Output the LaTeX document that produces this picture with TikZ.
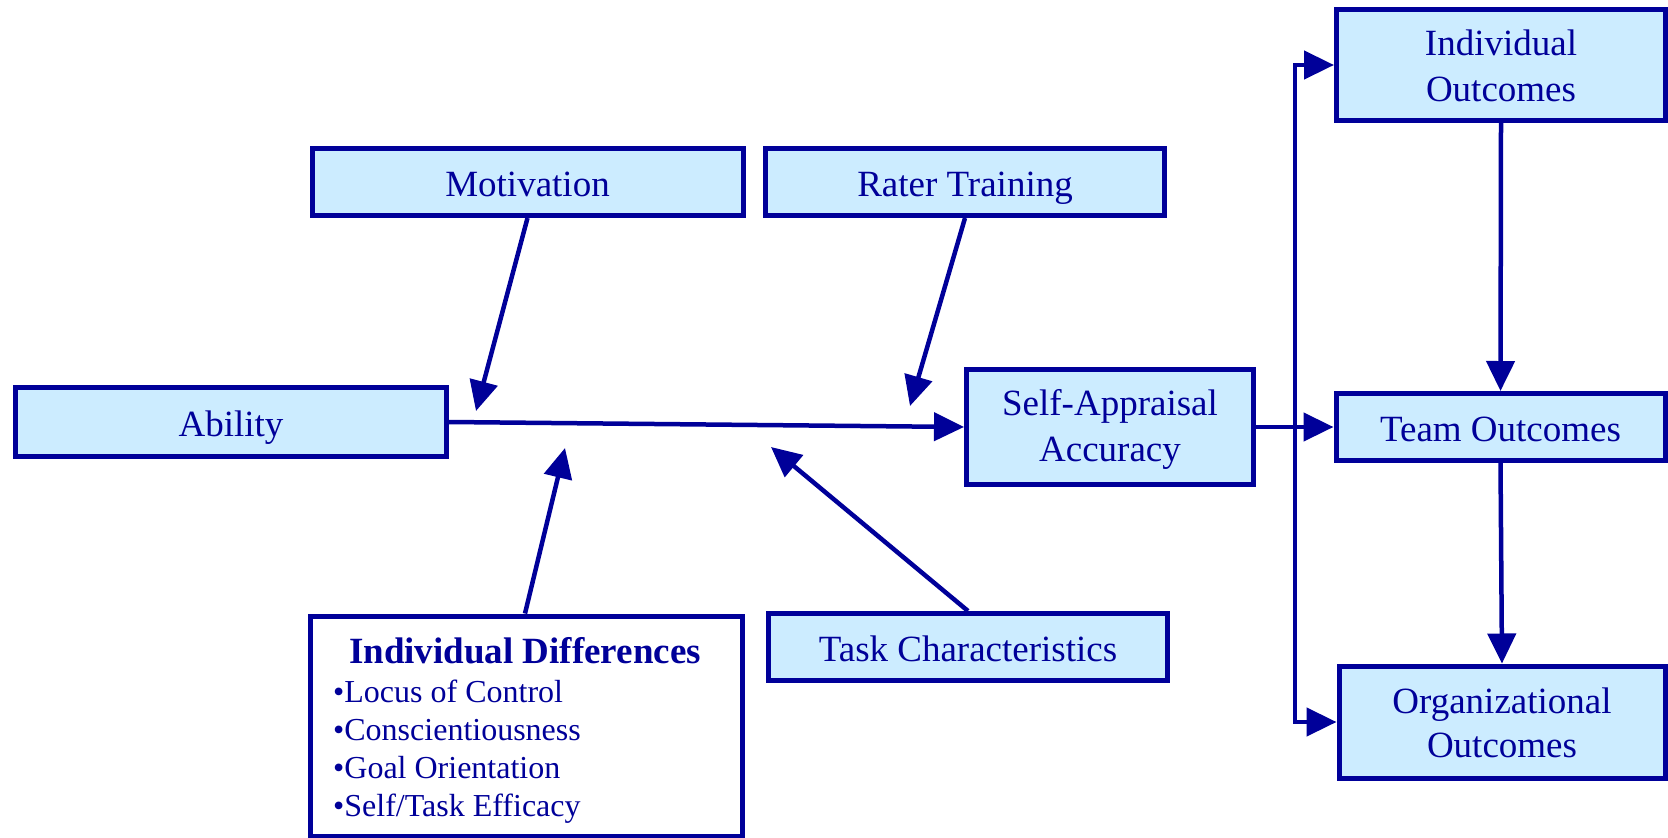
\documentclass[tikz,border=0pt]{standalone}
\usepackage{fontspec}
\setmainfont{Liberation Serif}
\usetikzlibrary{arrows.meta}
\definecolor{dblue}{HTML}{000099}
\definecolor{lblue}{HTML}{CCECFF}
\tikzset{
  box/.style={draw=dblue, fill=lblue, line width=5pt, inner sep=0pt, text=dblue, align=center,
    font=\fontsize{37}{45}\selectfont, text height=33pt, text depth=4pt},
  line/.style={text=dblue, inner sep=0pt, anchor=base, font=\fontsize{37}{45}\selectfont},
  bullet/.style={text=dblue, inner sep=0pt, anchor=base west, font=\fontsize{32}{38}\selectfont},
  conn/.style={draw=dblue, line width=4.5pt, -{Triangle[length=30pt,width=28pt]}},
}
\begin{document}
\begin{tikzpicture}[x=1pt,y=-1pt]
\useasboundingbox (0,0) rectangle (1668,838);
% single-line boxes
\node[box, minimum width=431pt, minimum height=67pt] (mot) at (527.5,182) {Motivation};
\node[box, minimum width=399pt, minimum height=67pt] (rat) at (965,182) {Rater Training};
\node[box, minimum width=431pt, minimum height=69pt] (abi) at (231,422) {Ability};
\node[box, minimum width=329pt, minimum height=67pt] (tea) at (1500.5,427) {Team Outcomes};
\node[box, minimum width=399pt, minimum height=67pt] (tas) at (968,647) {Task Characteristics};
% two-line boxes
\node[box, minimum width=287pt, minimum height=115pt] (sel) at (1110,427) {};
\node[line] (sel1) at (1110,415) {Self-Appraisal};
\node[line] (sel2) at (1110,461) {Accuracy};
\node[box, minimum width=329pt, minimum height=111pt] (ind) at (1501,65) {};
\node[line] (ind1) at (1501,55) {Individual};
\node[line] (ind2) at (1501,101) {Outcomes};
\node[box, minimum width=326pt, minimum height=112pt] (org) at (1502,722) {};
\node[line] (org1) at (1502,713) {Organizational};
\node[line] (org2) at (1502,757) {Outcomes};
% individual differences
\node[box, fill=white, minimum width=432pt, minimum height=220pt] (dif) at (526,726) {};
\node[line, font=\fontsize{37}{45}\selectfont\bfseries] (dift) at (525,663) {Individual Differences};
\node[bullet] (b1) at (333,702) {•Locus of Control};
\node[bullet] (b2) at (333,740) {•Conscientiousness};
\node[bullet] (b3) at (333,778) {•Goal Orientation};
\node[bullet] (b4) at (333,816) {•Self/Task Efficacy};
% free ends
\coordinate (mtip) at (476,411);
\coordinate (rtip) at (910,406);
\coordinate (dtip) at (565,448);
\coordinate (ttip) at (771,447);
\coordinate (split) at (1295,427);
% connectors
\draw[conn] (mot.south) -- (mtip);
\draw[conn] (rat.south) -- (rtip);
\draw[conn] (abi.east) -- (sel.west);
\draw[conn] (dif.north -| 525,0) -- (dtip);
\draw[conn] (tas.north) -- (ttip);
\draw[conn] (sel.east) -- (tea.west);
\draw[conn] (split) |- (ind.west);
\draw[conn] (split) |- (org.west);
\draw[conn] (ind.south) -- (tea.north);
\draw[conn] (tea.south) -- (org.north);
\end{tikzpicture}
\end{document}
